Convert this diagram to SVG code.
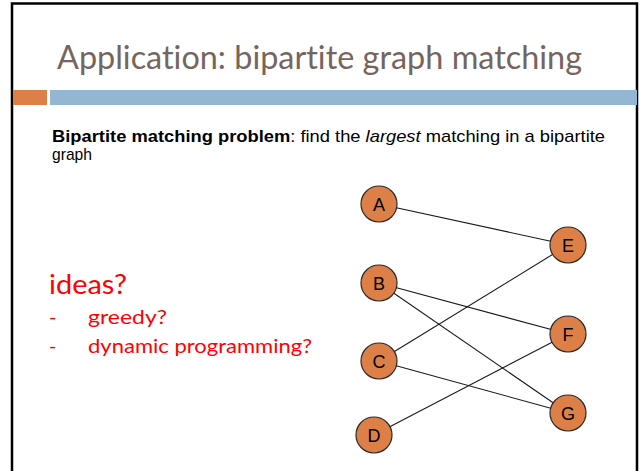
<svg xmlns="http://www.w3.org/2000/svg" width="642" height="471" viewBox="0 0 642 471">
  <style>
    .frame { fill: none; stroke: #000; stroke-width: 2.5; }
    .title { font-family: "Lato", "Open Sans", sans-serif; font-size: 32px; fill: #76655e; font-variant-ligatures: none; }
    .body { font-family: "Liberation Sans", Arial, sans-serif; font-size: 17px; fill: #000; }
    .idea { font-family: "Lato", "Open Sans", sans-serif; fill: #ff0000; font-variant-ligatures: none; }
    .edge { stroke: #1a1a1a; stroke-width: 1.1; fill: none; }
    .node circle { fill: #dd8047; stroke: #2a2a2a; stroke-width: 1.2; }
    .node text { font-family: "Liberation Sans", Arial, sans-serif; font-size: 18px; fill: #000; text-anchor: middle; }
  </style>

  <rect width="642" height="471" fill="#ffffff"/>
  <!-- slide frame (open at the bottom) -->
  <path class="frame" d="M12 471 V3.5 H637 V471"/>

  <!-- title -->
  <text class="title" x="57" y="69" textLength="525" lengthAdjust="spacingAndGlyphs">Application: bipartite graph matching</text>

  <!-- accent bars under the title -->
  <rect x="13" y="90" width="34" height="15" fill="#dd8047"/>
  <rect x="50" y="90" width="587" height="15" fill="#93b6d2"/>

  <!-- problem statement -->
  <text class="body" x="52" y="142" textLength="553" lengthAdjust="spacingAndGlyphs"><tspan font-weight="bold">Bipartite matching problem</tspan>: find the <tspan font-style="italic">largest</tspan> matching in a bipartite</text>
  <text class="body" x="52" y="160" textLength="40" lengthAdjust="spacingAndGlyphs">graph</text>

  <!-- ideas list -->
  <text class="idea" x="49" y="294" font-size="27" textLength="78" lengthAdjust="spacingAndGlyphs">ideas?</text>
  <text class="idea" x="49" y="324" font-size="20">-</text>
  <text class="idea" x="88" y="324" font-size="20" textLength="79" lengthAdjust="spacingAndGlyphs">greedy?</text>
  <text class="idea" x="49" y="353" font-size="20">-</text>
  <text class="idea" x="88" y="353" font-size="20" textLength="224" lengthAdjust="spacingAndGlyphs">dynamic programming?</text>

  <!-- connectors -->
  <g id="edges">
    <line class="edge" x1="379" y1="204" x2="568" y2="245"/>
    <line class="edge" x1="379" y1="283" x2="568" y2="334"/>
    <line class="edge" x1="379" y1="283" x2="568" y2="413"/>
    <line class="edge" x1="379" y1="361" x2="568" y2="245"/>
    <line class="edge" x1="379" y1="361" x2="568" y2="413"/>
    <line class="edge" x1="374" y1="435" x2="568" y2="334"/>
  </g>

  <!-- nodes -->
  <g id="node-A" class="node"><circle cx="379" cy="204" r="18"/><text x="379" y="210.5">A</text></g>
  <g id="node-B" class="node"><circle cx="379" cy="283" r="18"/><text x="379" y="289.5">B</text></g>
  <g id="node-C" class="node"><circle cx="379" cy="361" r="18"/><text x="379" y="367.5">C</text></g>
  <g id="node-D" class="node"><circle cx="374" cy="435" r="18"/><text x="374" y="441.5">D</text></g>
  <g id="node-E" class="node"><circle cx="568" cy="245" r="18"/><text x="568" y="251.5">E</text></g>
  <g id="node-F" class="node"><circle cx="568" cy="334" r="18"/><text x="568" y="340.5">F</text></g>
  <g id="node-G" class="node"><circle cx="568" cy="413" r="18"/><text x="568" y="419.5">G</text></g>
</svg>
